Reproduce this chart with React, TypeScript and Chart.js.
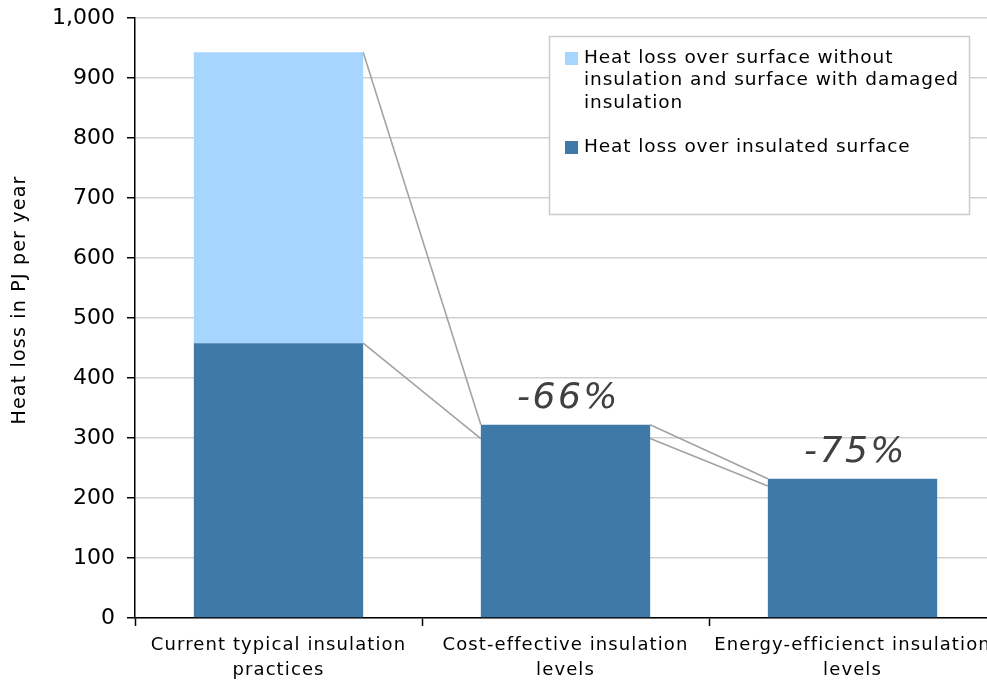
import React, { useEffect, useRef } from "react";
import { Chart, registerables } from "chart.js";

Chart.register(...registerables);

const categories: string[][] = [
  ["Current typical insulation", "practices"],
  ["Cost-effective insulation", "levels"],
  ["Energy-efficienct insulation", "levels"],
];
const insulatedLoss = [458, 322, 232];
const uninsulatedLoss = [485, 0, 0];
const upperConnector = [943, 322, 232];
const lowerConnector = [458, 299, 220];
const reductionLabels = ["", "-66%", "-75%"];
const legendUninsulated = ["Heat loss over surface without", "insulation and surface with damaged", "insulation"];
const legendInsulated = ["Heat loss over insulated surface"];
const yAxisTitle = "Heat loss in PJ per year";

const DARK = "#3E79A7";
const LIGHT = "#A6D5FE";
const FONT = "'DejaVu Sans', Verdana, sans-serif";

export default function App() {
  const ref = useRef<HTMLCanvasElement | null>(null);

  useEffect(() => {
    if (!ref.current) return;
    document.body.style.overflow = "hidden";

    const overlay = {
      id: "overlay",
      beforeDatasetsDraw(chart: any) {
        const ctx = chart.ctx;
        const y = chart.scales.y;
        const meta = chart.getDatasetMeta(0);
        ctx.save();
        ctx.strokeStyle = "#A3A3A3";
        ctx.lineWidth = 1.6;
        [upperConnector, lowerConnector].forEach((arr) => {
          for (let i = 0; i < arr.length - 1; i++) {
            const a = meta.data[i];
            const b = meta.data[i + 1];
            ctx.beginPath();
            ctx.moveTo(a.x + a.width / 2, y.getPixelForValue(arr[i]));
            ctx.lineTo(b.x - b.width / 2, y.getPixelForValue(arr[i + 1]));
            ctx.stroke();
          }
        });
        ctx.restore();
      },
      afterDraw(chart: any) {
        const ctx = chart.ctx;
        const y = chart.scales.y;
        const x = chart.scales.x;
        const meta = chart.getDatasetMeta(0);
        ctx.save();
        // category labels
        ctx.font = `18px ${FONT}`;
        (ctx as any).letterSpacing = "1.1px";
        ctx.fillStyle = "#000";
        ctx.textAlign = "center";
        ctx.textBaseline = "middle";
        categories.forEach((lines, i) => {
          const cx = x.getPixelForTick(i);
          lines.forEach((t, j) => ctx.fillText(t, cx, 645 + j * 25));
        });
        // reduction labels
        ctx.font = `italic 36px ${FONT}`;
        (ctx as any).letterSpacing = "2.5px";
        ctx.fillStyle = "#404040";
        reductionLabels.forEach((t, i) => {
          if (!t) return;
          const total = insulatedLoss[i] + uninsulatedLoss[i];
          ctx.fillText(t, meta.data[i].x + 3, y.getPixelForValue(total) - 26);
        });
        // y title
        ctx.save();
        ctx.translate(20, 300);
        ctx.rotate(-Math.PI / 2);
        ctx.font = `19px ${FONT}`;
        (ctx as any).letterSpacing = "1.2px";
        ctx.fillStyle = "#000";
        ctx.textAlign = "center";
        ctx.textBaseline = "middle";
        ctx.fillText(yAxisTitle, 0, 0);
        ctx.restore();
        // legend
        ctx.fillStyle = "#fff";
        ctx.fillRect(549, 36, 420, 178);
        ctx.strokeStyle = "#CCCCCC";
        ctx.lineWidth = 1.5;
        ctx.strokeRect(549.5, 36.5, 420, 178);
        ctx.font = `18.5px ${FONT}`;
        (ctx as any).letterSpacing = "0.9px";
        ctx.textAlign = "left";
        ctx.textBaseline = "middle";
        ctx.fillStyle = LIGHT;
        ctx.fillRect(565, 52, 13, 13);
        ctx.fillStyle = "#000";
        legendUninsulated.forEach((t, i) => ctx.fillText(t, 584, 58 + i * 22.5));
        ctx.fillStyle = DARK;
        ctx.fillRect(565, 141, 13, 13);
        ctx.fillStyle = "#000";
        legendInsulated.forEach((t, i) => ctx.fillText(t, 584, 147 + i * 22.5));
        ctx.restore();
      },
    };

    const chart = new Chart(ref.current, {
      type: "bar",
      data: {
        labels: categories.map((c) => c.join(" ")),
        datasets: [
          { label: legendInsulated.join(" "), data: insulatedLoss, backgroundColor: DARK, borderWidth: 0 },
          { label: legendUninsulated.join(" "), data: uninsulatedLoss, backgroundColor: LIGHT, borderWidth: 0 },
        ],
      },
      options: {
        responsive: false,
        animation: false,
        devicePixelRatio: 1,
        layout: { padding: { top: 18, left: 0, right: 0, bottom: 0 } },
        plugins: { legend: { display: false }, tooltip: { enabled: false } },
        datasets: { bar: { categoryPercentage: 1, barPercentage: 0.59 } },
        scales: {
          x: {
            stacked: true,
            offset: true,
            grid: { offset: true, drawOnChartArea: false, tickLength: 8, tickColor: "#000", tickWidth: 1.5 },
            border: { color: "#000", width: 1.5 },
            ticks: { display: false },
            afterFit(scale: any) {
              scale.height = 64;
              scale.paddingLeft = 0;
              scale.paddingRight = 0;
            },
          },
          y: {
            stacked: true,
            min: 0,
            max: 1000,
            grid: { color: "#D0D0D0", lineWidth: 1.5, tickLength: 8, tickColor: "#000", tickWidth: 1.5 },
            border: { color: "#000", width: 1.5 },
            ticks: {
              stepSize: 100,
              font: { family: FONT, size: 22 },
              color: "#000",
              padding: 12,
              callback: (v: any) => Number(v).toLocaleString("en-US"),
            },
            afterFit(scale: any) {
              scale.width = 135;
              scale.paddingTop = 0;
              scale.paddingBottom = 0;
            },
          },
        },
      },
      plugins: [overlay],
    });
    return () => chart.destroy();
  }, []);

  return (
    <div style={{ position: "fixed", left: 0, top: 0, width: 987, height: 682, overflow: "hidden", background: "#fff" }}>
      <canvas ref={ref} width={996} height={682} style={{ display: "block" }} />
    </div>
  );
}
